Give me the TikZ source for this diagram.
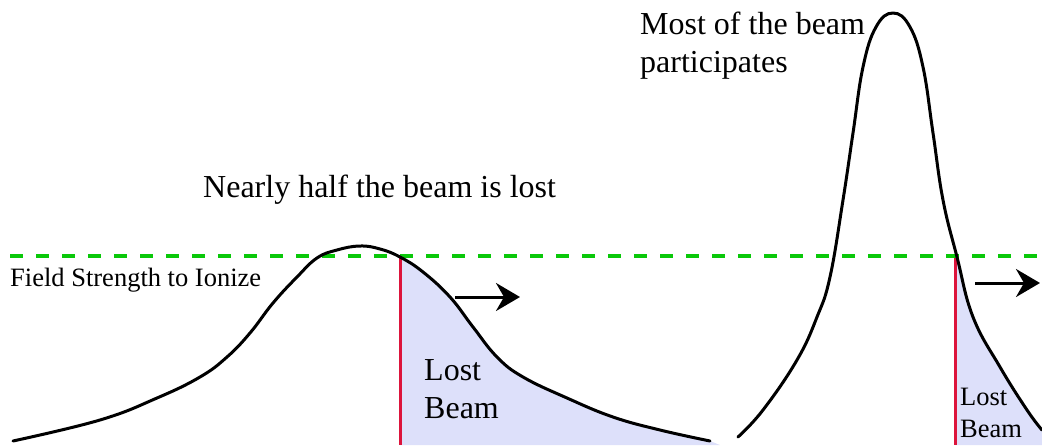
\documentclass[tikz,border=0pt]{standalone}
\usepackage{fontspec}
\setmainfont{Liberation Serif}
\usetikzlibrary{arrows.meta}
\definecolor{fieldgreen}{RGB}{10,200,10}
\definecolor{cutred}{RGB}{220,20,60}
\definecolor{lostfill}{RGB}{221,224,250}
\tikzset{
  beam/.style={line width=3pt, black, line cap=round, line join=round},
  field/.style={fieldgreen, line width=3.2pt, dash pattern=on 13pt off 13pt},
  cut/.style={cutred, line width=3pt},
  lost/.style={fill=lostfill},
  move/.style={line width=3pt, -{Stealth[length=24pt, width=28pt, inset=8pt]}},
  bigtxt/.style={font=\fontsize{32}{37.5}\selectfont, inner sep=0pt, anchor=base west, align=left},
  smalltxt/.style={font=\fontsize{26.5}{32}\selectfont, inner sep=0pt, anchor=base west, align=left}
}
\def\beamA{(13,441) (100,420) (157,398) (200,377) (227,357) (250,333) (273,303) (297,277) (317,258) (337,250) (360,246) (380,249) (400,257) (423,272) (450,297) (473,327) (497,357) (523,377) (567,398) (613,417) (660,430) (710,441)}
\def\beamB{(738,437) (763,410) (797,360) (817,317) (830,277) (843,200) (853,133) (863,67) (876,27) (893,13) (910,27) (923,67) (933,133) (943,200) (957,257) (973,317) (1000,367) (1027,410) (1042,430)}
\begin{document}
\begin{tikzpicture}[x=1pt, y=-1pt]
\useasboundingbox (0,0) rectangle (1042,445);
% fills
\begin{scope}
  \clip (400,0) rectangle (1042,445);
  \fill[lost] plot[smooth, tension=0.7] coordinates {\beamA} -- (720,445) -- (13,445) -- cycle;
\end{scope}
\begin{scope}
  \clip (955,0) rectangle (1042,445);
  \fill[lost] plot[smooth, tension=0.7] coordinates {\beamB} -- (1042,445) -- (738,445) -- cycle;
\end{scope}
% field line
\coordinate (fsL) at (10,256);
\coordinate (fsR) at (1042,256);
\draw[field] (fsL) -- (fsR);
% cut lines
\coordinate (c1t) at (400,256);
\coordinate (c1b) at (400,445);
\coordinate (c2t) at (955,258);
\coordinate (c2b) at (955,445);
\draw[cut] (c1t) -- (c1b);
\draw[cut] (c2t) -- (c2b);
% beams
\draw[beam] plot[smooth, tension=0.7] coordinates {\beamA};
\draw[beam] plot[smooth, tension=0.7] coordinates {\beamB};
% arrows
\coordinate (a1s) at (455,297);
\coordinate (a1e) at (520,297);
\coordinate (a2s) at (975,283);
\coordinate (a2e) at (1040,283);
\draw[move] (a1s) -- (a1e);
\draw[move] (a2s) -- (a2e);
% texts
\node[bigtxt] (most) at (640,72) {Most of the beam\\participates};
\node[bigtxt] (half) at (203,197) {Nearly half the beam is lost};
\node[smalltxt] (fsi) at (10,286) {Field Strength to Ionize};
\node[bigtxt] (lost1) at (424,418) {Lost\\Beam};
\node[smalltxt] (lost2) at (960,437) {Lost\\Beam};
\end{tikzpicture}
\end{document}
